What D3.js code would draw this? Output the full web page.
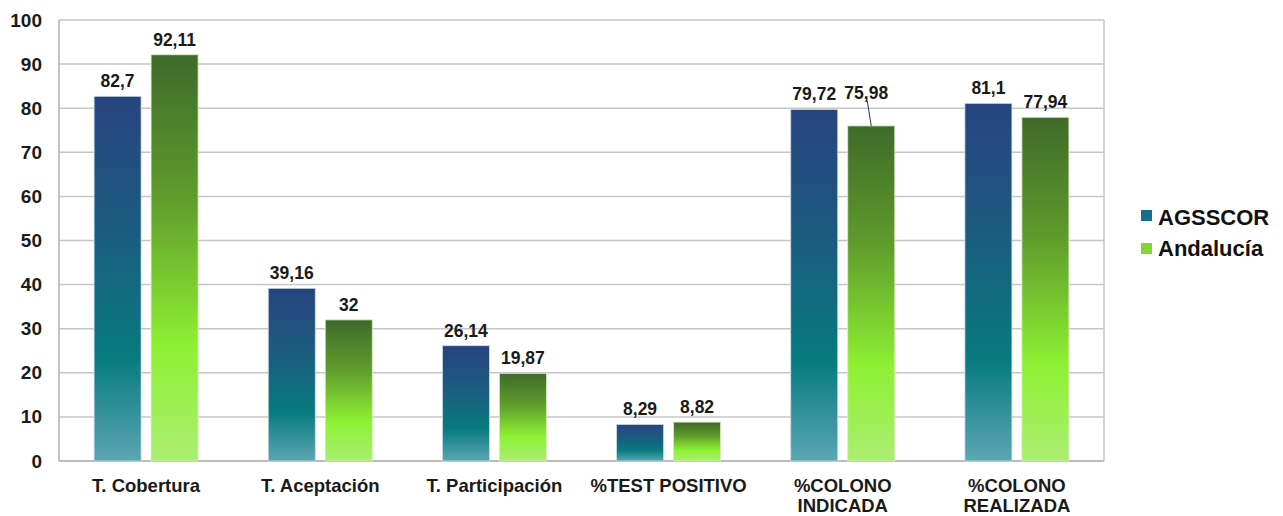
<!DOCTYPE html>
<html><head><meta charset="utf-8">
<script src="https://cdn.jsdelivr.net/npm/d3@7"></script>
<style>body{margin:0;background:#fff;}svg{display:block;font-family:"Liberation Sans",Arial,sans-serif;}</style>
</head><body>
<svg id="c" width="1283" height="516"></svg>
<script>
const categories = [["T. Cobertura"],["T. Aceptación"],["T. Participación"],["%TEST POSITIVO"],["%COLONO","INDICADA"],["%COLONO","REALIZADA"]];
const seriesNames = ["AGSSCOR","Andalucía"];
const agsscor = [82.7, 39.16, 26.14, 8.29, 79.72, 81.1];
const andalucia = [92.11, 32, 19.87, 8.82, 75.98, 77.94];
const yTicks = [0,10,20,30,40,50,60,70,80,90,100];

const svg = d3.select("#c");
const m = {l:59, r:1104, t:20, b:461};
const x = d3.scaleBand().domain(d3.range(categories.length)).range([m.l, m.r]).paddingInner(0).paddingOuter(0);
const y = d3.scaleLinear().domain([0,100]).range([m.b, m.t]);

const defs = svg.append("defs");
const gb = defs.append("linearGradient").attr("id","gBlue").attr("x1",0).attr("y1",0).attr("x2",0).attr("y2",1);
gb.append("stop").attr("offset","0%").attr("stop-color","#27447f");
gb.append("stop").attr("offset","35%").attr("stop-color","#1c5a80");
gb.append("stop").attr("offset","72%").attr("stop-color","#077b7e");
gb.append("stop").attr("offset","100%").attr("stop-color","#5ca6b3");
const gg = defs.append("linearGradient").attr("id","gGreen").attr("x1",0).attr("y1",0).attr("x2",0).attr("y2",1);
gg.append("stop").attr("offset","0%").attr("stop-color","#3f6a2a");
gg.append("stop").attr("offset","35%").attr("stop-color","#5f9b2c");
gg.append("stop").attr("offset","72%").attr("stop-color","#8ef133");
gg.append("stop").attr("offset","100%").attr("stop-color","#abee72");

// grid
svg.append("g").selectAll("line").data(yTicks).join("line")
  .attr("x1",m.l).attr("x2",m.r).attr("y1",d=>y(d)).attr("y2",d=>y(d))
  .attr("stroke",d=>d===0?"#a6a6a6":"#c6c6c6").attr("stroke-width",1.5);
svg.append("line").attr("x1",m.l).attr("x2",m.l).attr("y1",m.t).attr("y2",m.b).attr("stroke","#b0b0b0").attr("stroke-width",1.5);
svg.append("line").attr("x1",m.r).attr("x2",m.r).attr("y1",m.t).attr("y2",m.b).attr("stroke","#c6c6c6").attr("stroke-width",1.5);

// y axis labels
const yAxis = d3.axisLeft(y).tickValues(yTicks).tickSize(0).tickPadding(17);
const ya = svg.append("g").attr("transform",`translate(${m.l},0)`).call(yAxis);
ya.select(".domain").remove();
ya.selectAll("text").attr("font-size",19).attr("font-weight","bold").attr("fill","#1a1a1a").attr("font-family","Liberation Sans, Arial, sans-serif");

const bw = 47, gap = 10;
const series = [agsscor, andalucia];
const fills = ["url(#gBlue)","url(#gGreen)"];
series.forEach((vals, si) => {
  const g = svg.append("g");
  const bx = i => x(i) + x.bandwidth()/2 + (si===0 ? -gap/2-bw : gap/2);
  g.selectAll("rect").data(vals).join("rect")
    .attr("x",(d,i)=>bx(i)).attr("width",bw)
    .attr("y",d=>y(d)).attr("height",d=>y(0)-y(d))
    .attr("fill",fills[si]).attr("stroke",si===0?"#c9dbe8":"#d6ecc0").attr("stroke-width",0.8);
  g.selectAll("text").data(vals).join("text")
    .attr("x",(d,i)=>bx(i)+bw/2 + ((si===1 && i===4) ? -5 : 0))
    .attr("y",(d,i)=> (si===1 && i===4) ? y(d)-27 : y(d)-9)
    .attr("text-anchor","middle").attr("font-size",17.5).attr("font-weight","bold").attr("fill","#1a1a1a")
    .text(d=>String(d).replace(".",","));
  if (si===1) {
    const i = 4, d = vals[4];
    g.append("line").attr("x1",bx(i)+bw/2-4).attr("y1",y(d)-25).attr("x2",bx(i)+bw/2).attr("y2",y(d))
      .attr("stroke","#333").attr("stroke-width",1);
  }
});

// x labels
const xl = svg.append("g");
categories.forEach((lines,i)=>{
  const t = xl.append("text").attr("x",x(i)+x.bandwidth()/2).attr("y",492)
    .attr("text-anchor","middle").attr("font-size",18.5).attr("font-weight","bold").attr("fill","#1a1a1a");
  lines.forEach((ln,k)=>t.append("tspan").attr("x",x(i)+x.bandwidth()/2).attr("dy",k===0?0:19.5).text(ln));
});

// legend
const lg = svg.append("g");
const lcol = ["#17708a","#7fd832"];
seriesNames.forEach((n,k)=>{
  lg.append("rect").attr("x",1141).attr("y",210+k*33).attr("width",11).attr("height",11).attr("fill",lcol[k]);
  lg.append("text").attr("x",1158).attr("y",225+k*31).attr("font-size",22).attr("font-weight","bold").attr("fill","#111").text(n);
});
</script>
</body></html>
